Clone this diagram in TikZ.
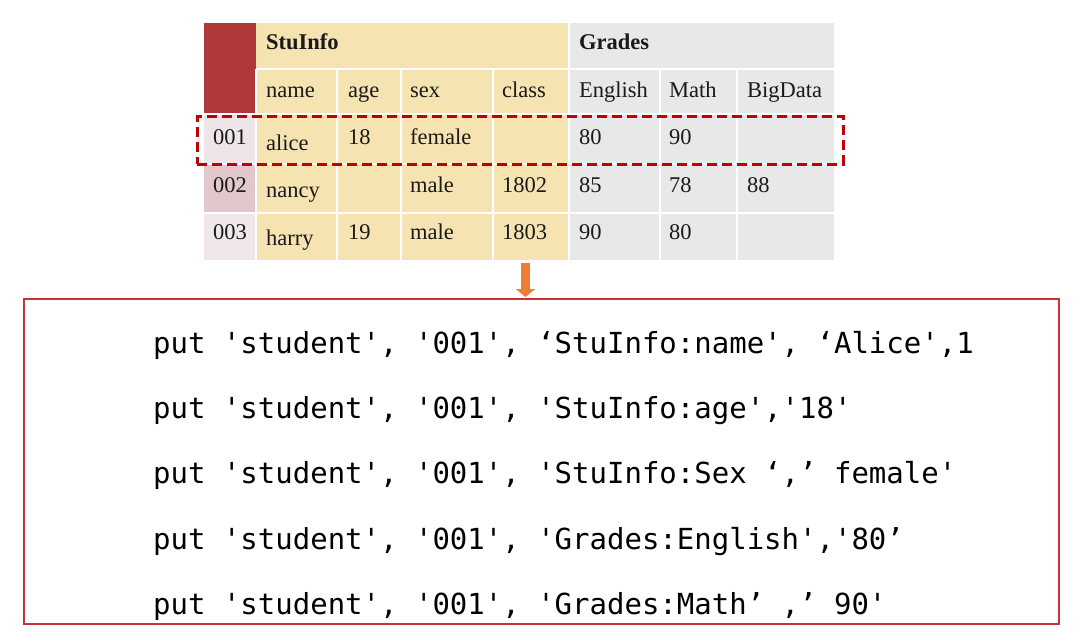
\documentclass[tikz,border=0pt]{standalone}
\usepackage{fontspec}
\setmainfont{Liberation Serif}
\setmonofont{DejaVu Sans Mono}
\usetikzlibrary{arrows.meta}
\definecolor{redcol}{HTML}{AF383B}
\definecolor{beige}{HTML}{F6E3B2}
\definecolor{grayc}{HTML}{E8E8E8}
\definecolor{rowa}{HTML}{EEE5E8}
\definecolor{rowb}{HTML}{E2C7CC}
\definecolor{rowc}{HTML}{EFE7EA}
\definecolor{dashred}{HTML}{C00000}
\definecolor{boxred}{HTML}{C4343A}
\definecolor{arroworange}{HTML}{ED7D31}
\definecolor{txt}{HTML}{1A1A1A}
\tikzset{
  blk/.style={draw=none, inner sep=0pt, outer sep=0pt, anchor=north west},
  grid/.style={draw=white, line width=2pt},
  tt/.style={anchor=base west, inner sep=0pt, text=txt, font=\fontsize{22.5}{24}\selectfont},
  th/.style={tt, font=\fontsize{22.5}{24}\selectfont\bfseries},
  code/.style={anchor=base west, inner sep=0pt, font=\fontsize{29}{32}\selectfont\ttfamily\frenchspacing},
}
\begin{document}
\begin{tikzpicture}[x=1pt,y=-1pt]
\useasboundingbox (0,0) rectangle (1081,635);
% blocks
\node[blk, fill=redcol, minimum width=52pt, minimum height=91pt] (red) at (204,23) {};
\node[blk, fill=beige, minimum width=312pt, minimum height=237pt] (stu) at (256,23) {};
\node[blk, fill=grayc, minimum width=266pt, minimum height=237pt] (gra) at (568,23) {};
\node[blk, fill=rowa, minimum width=52pt, minimum height=49.5pt] (ra) at (204,114) {};
\node[blk, fill=rowb, minimum width=52pt, minimum height=49.5pt] (rb) at (204,163.5) {};
\node[blk, fill=rowc, minimum width=52pt, minimum height=46.5pt] (rc) at (204,213) {};
% grid lines
\draw[grid] (256,69) -- (834,69);
\draw[grid] (204,114) -- (834,114);
\draw[grid] (204,163.5) -- (834,163.5);
\draw[grid] (204,213) -- (834,213);
\foreach \x in {256,337,401,493,660,737} \draw[grid] (\x,69) -- (\x,260);
\draw[grid] (568.5,23) -- (568.5,260);
% header texts
\node[th] (hstu) at (266,49) {StuInfo};
\node[th] (hgra) at (579,49) {Grades};
\node[tt] (cname) at (266,97) {name};
\node[tt] (cage) at (348,97) {age};
\node[tt] (csex) at (410,97) {sex};
\node[tt] (cclass) at (502,97) {class};
\node[tt] (ceng) at (579,97) {English};
\node[tt] (cmath) at (669,97) {Math};
\node[tt] (cbig) at (747,97) {BigData};
% row 001
\node[tt] (k1) at (213,144) {001};
\node[tt] (n1) at (266,150) {alice};
\node[tt] (a1) at (348,144) {18};
\node[tt] (s1) at (410,144) {female};
\node[tt] (e1) at (579,144) {80};
\node[tt] (m1) at (669,144) {90};
% row 002
\node[tt] (k2) at (213,192) {002};
\node[tt] (n2) at (266,197) {nancy};
\node[tt] (s2) at (410,192) {male};
\node[tt] (c2) at (502,192) {1802};
\node[tt] (e2) at (579,192) {85};
\node[tt] (m2) at (669,192) {78};
\node[tt] (b2) at (747,192) {88};
% row 003
\node[tt] (k3) at (213,239) {003};
\node[tt] (n3) at (266,245) {harry};
\node[tt] (a3) at (348,239) {19};
\node[tt] (s3) at (410,239) {male};
\node[tt] (c3) at (502,239) {1803};
\node[tt] (e3) at (579,239) {90};
\node[tt] (m3) at (669,239) {80};
% selection
\node[blk, draw=dashred, line width=3pt, dash pattern=on 10pt off 5pt, minimum width=646pt, minimum height=47.5pt] (sel) at (197,116.5) {};
% code box
\node[blk, draw=boxred, line width=2pt, minimum width=1035pt, minimum height=325pt] (box) at (24,299) {};
\coordinate (tbot) at (525.5,263);
\coordinate (btop) at (525.5,297);
\draw[arroworange, line width=9pt, -{Triangle[width=19pt,length=8pt]}] (tbot) -- (btop);
% code lines
\node[code] (l1) at (153,353) {put 'student', '001', ‘StuInfo:name', ‘Alice',1};
\node[code] (l2) at (153,418) {put 'student', '001', 'StuInfo:age','18'};
\node[code] (l3) at (153,483) {put 'student', '001', 'StuInfo:Sex ‘,’ female'};
\node[code] (l4) at (153,549) {put 'student', '001', 'Grades:English','80’};
\node[code] (l5) at (153,614) {put 'student', '001', 'Grades:Math’ ,’ 90'};
\end{tikzpicture}
\end{document}
